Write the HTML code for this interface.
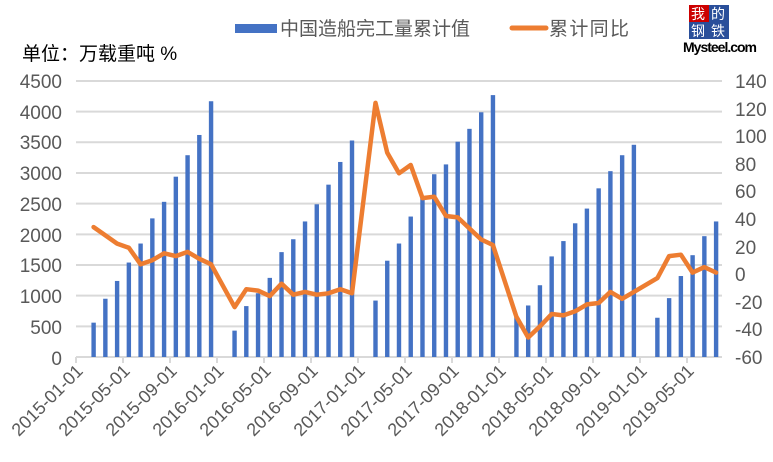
<!DOCTYPE html>
<html><head><meta charset="utf-8"><style>
body{margin:0;background:#fff;}
svg{display:block;font-family:"Liberation Sans","Noto Sans CJK SC",sans-serif;}
</style></head><body>
<svg id="s" width="773" height="462" viewBox="0 0 773 462">
<g stroke="#d9d9d9" stroke-width="2" id="grid"></g>
<g id="bars" fill="#4472C4"></g>
<polyline id="ln" fill="none" stroke="#ED7D31" stroke-width="4.5" stroke-linejoin="round" stroke-linecap="round"/>
<g font-size="19" fill="#595959" text-anchor="end">
<text x="62" y="88">4500</text><text x="62" y="119">4000</text><text x="62" y="149">3500</text><text x="62" y="180">3000</text><text x="62" y="211">2500</text><text x="62" y="242">2000</text><text x="62" y="272">1500</text><text x="62" y="303">1000</text><text x="62" y="334">500</text><text x="62" y="365">0</text>
</g>
<g font-size="19" fill="#595959" text-anchor="start">
<text x="735" y="88">140</text><text x="735" y="116">120</text><text x="735" y="143">100</text><text x="735" y="171">80</text><text x="735" y="198">60</text><text x="735" y="226">40</text><text x="735" y="254">20</text><text x="735" y="281">0</text><text x="735" y="309">-20</text><text x="735" y="336">-40</text><text x="735" y="364">-60</text>
</g>
<g font-size="18" fill="#595959" text-anchor="end">
<text transform="translate(84,372) rotate(-45)">2015-01-01</text>
<text transform="translate(131,372) rotate(-45)">2015-05-01</text>
<text transform="translate(178,372) rotate(-45)">2015-09-01</text>
<text transform="translate(225,372) rotate(-45)">2016-01-01</text>
<text transform="translate(272,372) rotate(-45)">2016-05-01</text>
<text transform="translate(319,372) rotate(-45)">2016-09-01</text>
<text transform="translate(366,372) rotate(-45)">2017-01-01</text>
<text transform="translate(413,372) rotate(-45)">2017-05-01</text>
<text transform="translate(460,372) rotate(-45)">2017-09-01</text>
<text transform="translate(507,372) rotate(-45)">2018-01-01</text>
<text transform="translate(554,372) rotate(-45)">2018-05-01</text>
<text transform="translate(601,372) rotate(-45)">2018-09-01</text>
<text transform="translate(648,372) rotate(-45)">2019-01-01</text>
<text transform="translate(695,372) rotate(-45)">2019-05-01</text>
</g>
<rect x="235" y="24" width="42" height="9" fill="#4472C4"/>
<text x="280" y="35" font-size="19" fill="#595959" textLength="190">中国造船完工量累计值</text>
<line x1="512" y1="28" x2="546" y2="28" stroke="#ED7D31" stroke-width="5" stroke-linecap="round"/>
<text x="549" y="35" font-size="19" fill="#595959" textLength="80">累计同比</text>
<text x="22" y="60" font-size="19" fill="#000">单位：万载重吨 %</text>
<rect x="689" y="5" width="20" height="17" fill="#c00"/><rect x="709" y="5" width="20" height="17" fill="#2a4f9a"/>
<rect x="689" y="22" width="20" height="17" fill="#2a4f9a"/><rect x="709" y="22" width="20" height="17" fill="#2a4f9a"/>
<text x="691" y="19" font-size="14" fill="#fff">我</text><text x="711" y="19" font-size="14" fill="#fff">的</text>
<text x="691" y="36" font-size="14" fill="#fff">钢</text><text x="711" y="36" font-size="14" fill="#fff">铁</text>
<text x="683" y="52" font-size="14" font-weight="bold" fill="#000" textLength="74">Mysteel.com</text>
</svg>
<script>
var ns="http://www.w3.org/2000/svg",g=document.getElementById('grid'),b=document.getElementById('bars');
for(var i=0;i<=9;i++){var y=357-i*30.67;var l=document.createElementNS(ns,'line');l.setAttribute('x1',76);l.setAttribute('x2',722);l.setAttribute('y1',y);l.setAttribute('y2',y);g.appendChild(l);}
for(var k=0;k<=13;k++){var l=document.createElementNS(ns,'line');var x=76+47*k;l.setAttribute('x1',x);l.setAttribute('x2',x);l.setAttribute('y1',357);l.setAttribute('y2',363);g.appendChild(l);}
var bars=[null,560,950,1240,1540,1850,2260,2530,2940,3290,3620,4170,
null,430,830,1040,1290,1710,1920,2210,2490,2810,3180,3530,
null,920,1570,1850,2290,2590,2980,3140,3510,3720,3990,4270,
null,650,840,1170,1640,1890,2180,2420,2750,3030,3290,3460,
null,640,960,1320,1660,1970,2210];
var line=[null,34,28,22,19,7,10,15,13,16,11,7,
null,-24,-11,-12,-16,-7,-15,-13,-15,-14,-11,-14,
null,124,88,73,79,55,56,42,41,33,25,21,
null,-31,-46,-38,-29,-30,-27,-22,-21,-13,-18,-13,
null,-3,13,14,1,5,1];
var pts=[];
for(var i=0;i<55;i++){var cx=76+11.745*(i+0.5);
 if(bars[i]!=null){var h=bars[i]*276/4500;var r=document.createElementNS(ns,'rect');r.setAttribute('x',cx-2.2);r.setAttribute('width',4.4);r.setAttribute('y',357-h);r.setAttribute('height',h);b.appendChild(r);}
 if(line[i]!=null){pts.push(cx.toFixed(1)+','+(274-line[i]*1.38).toFixed(1));}}
document.getElementById('ln').setAttribute('points',pts.join(' '));
</script>
</body></html>
